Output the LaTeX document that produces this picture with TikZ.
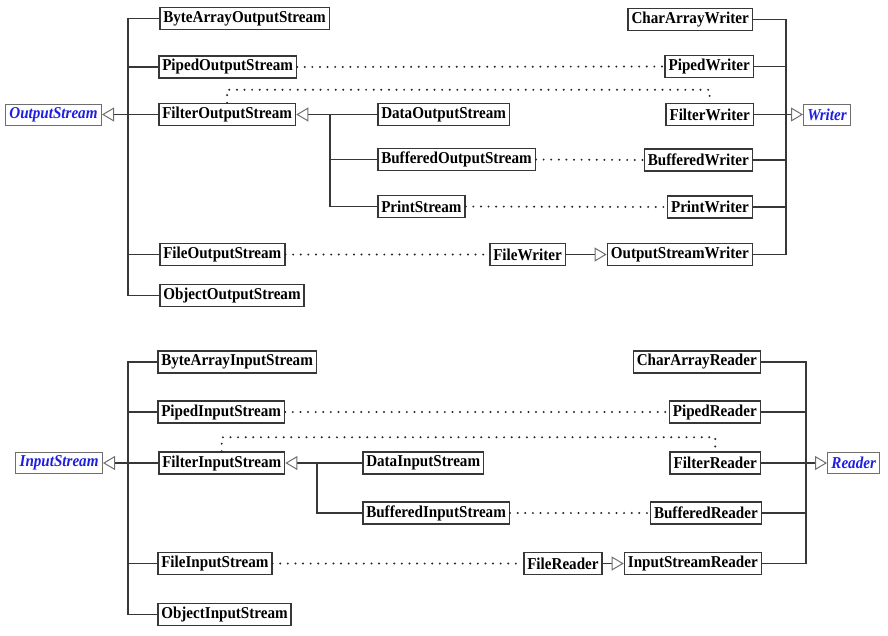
\documentclass[tikz,border=0pt]{standalone}
\usepackage{fontspec}
\setmainfont[FakeStretch=0.91]{Liberation Serif}
\usetikzlibrary{arrows.meta}
\definecolor{edgegray}{RGB}{55,55,55}
\definecolor{tipgray}{RGB}{110,110,110}
\definecolor{baseblue}{RGB}{30,30,225}
\begin{document}
\begin{tikzpicture}[x=1pt,y=-1pt,
  cls/.style={draw=edgegray,line width=1.5pt,fill=white,inner xsep=3.5pt,inner ysep=1.5pt,
     minimum height=22pt,font=\fontsize{16.6}{18}\selectfont\bfseries},
  base/.style={draw=tipgray,line width=0.9pt,fill=white,inner xsep=4pt,inner ysep=1.5pt,
     minimum height=21pt,text=baseblue,font=\fontsize{16.6}{18}\selectfont\bfseries\itshape},
  conn/.style={draw=edgegray,line width=1.5pt},
  inh/.style={draw=edgegray,line width=1.5pt,-{Triangle[open,length=12pt,width=14pt,line width=1pt,color=tipgray]}},
  dotl/.style={draw=black!85,line width=2.2pt,line cap=round,dash pattern=on 0pt off 7.6pt}
]
\useasboundingbox (0,0) rectangle (888,635);

% ---------------- Output side ----------------
\node[base,anchor=east] (OS) at (102,114.5) {OutputStream};
\node[cls,anchor=west] (baos) at (159,18.5) {ByteArrayOutputStream};
\node[cls,anchor=west] (pos) at (158,67) {PipedOutputStream};
\node[cls,anchor=west] (fos) at (158,114.5) {FilterOutputStream};
\node[cls,anchor=west] (dos) at (377,114.5) {DataOutputStream};
\node[cls,anchor=west] (bufos) at (377,159.5) {BufferedOutputStream};
\node[cls,anchor=west] (ps) at (377,206.5) {PrintStream};
\node[cls,anchor=west] (fileos) at (159,254.5) {FileOutputStream};
\node[cls,anchor=west] (oos) at (159,295.5) {ObjectOutputStream};

\node[cls,anchor=east] (caw) at (753,19.5) {CharArrayWriter};
\node[cls,anchor=east] (pw) at (754,66.5) {PipedWriter};
\node[cls,anchor=east] (fw) at (754,114.5) {FilterWriter};
\node[base,anchor=west] (writer) at (803,114.5) {Writer};
\node[cls,anchor=east] (bw) at (753,160) {BufferedWriter};
\node[cls,anchor=east] (prw) at (753,207) {PrintWriter};
\node[cls,anchor=east] (osw) at (753,254.5) {OutputStreamWriter};
\node[cls,anchor=west] (filew) at (489,254.5) {FileWriter};

\coordinate (ob) at (128,114.5);
\coordinate (fb) at (330,114.5);
\coordinate (wb) at (786,114.5);

\foreach \n in {baos,pos,fos,fileos,oos} \draw[conn] (\n.west) -| (ob);
\draw[inh] (ob) -- (OS.east);
\foreach \n in {dos,bufos,ps} \draw[conn] (\n.west) -| (fb);
\draw[inh] (fb) -- (fos.east);
\foreach \n in {caw,pw,fw,bw,prw,osw} \draw[conn] (\n.east) -| (wb);
\draw[inh] (wb) -- (writer.west);
\draw[inh] (filew.east) -- (osw.west);

\draw[dotl] (pos.east) -- (pw.west);
\draw[dotl] (bufos.east) -- (bw.west);
\draw[dotl] (ps.east) -- (prw.west);
\draw[dotl] (fileos.east) -- (filew.west);
\draw[dotl] (fos.north) -- ++(0,-13) -| (fw.north);

% ---------------- Input side ----------------
\node[base,anchor=east] (IS) at (103,463) {InputStream};
\node[cls,anchor=west] (bais) at (157,362) {ByteArrayInputStream};
\node[cls,anchor=west] (pis) at (157,412) {PipedInputStream};
\node[cls,anchor=west] (fis) at (158,463) {FilterInputStream};
\node[cls,anchor=west] (dis) at (362,463) {DataInputStream};
\node[cls,anchor=west] (bufis) at (362,513) {BufferedInputStream};
\node[cls,anchor=west] (fileis) at (157,563.5) {FileInputStream};
\node[cls,anchor=west] (ois) at (157,614.5) {ObjectInputStream};

\node[cls,anchor=east] (car) at (761,362) {CharArrayReader};
\node[cls,anchor=east] (pr) at (761,412) {PipedReader};
\node[cls,anchor=east] (fr) at (761,463) {FilterReader};
\node[base,anchor=west] (reader) at (827,463) {Reader};
\node[cls,anchor=east] (br) at (762,513) {BufferedReader};
\node[cls,anchor=east] (isr) at (762,563.5) {InputStreamReader};
\node[cls,anchor=west] (filer) at (523,563.5) {FileReader};

\coordinate (ib) at (128,463);
\coordinate (fib) at (317,463);
\coordinate (rb) at (806,463);

\foreach \n in {bais,pis,fis,fileis,ois} \draw[conn] (\n.west) -| (ib);
\draw[inh] (ib) -- (IS.east);
\foreach \n in {dis,bufis} \draw[conn] (\n.west) -| (fib);
\draw[inh] (fib) -- (fis.east);
\foreach \n in {car,pr,fr,br,isr} \draw[conn] (\n.east) -| (rb);
\draw[inh] (rb) -- (reader.west);
\draw[inh] (filer.east) -- (isr.west);

\draw[dotl] (pis.east) -- (pr.west);
\draw[dotl] (bufis.east) -- (br.west);
\draw[dotl] (fileis.east) -- (filer.west);
\draw[dotl] (fis.north) -- ++(0,-14) -| (fr.north);
\end{tikzpicture}
\end{document}
